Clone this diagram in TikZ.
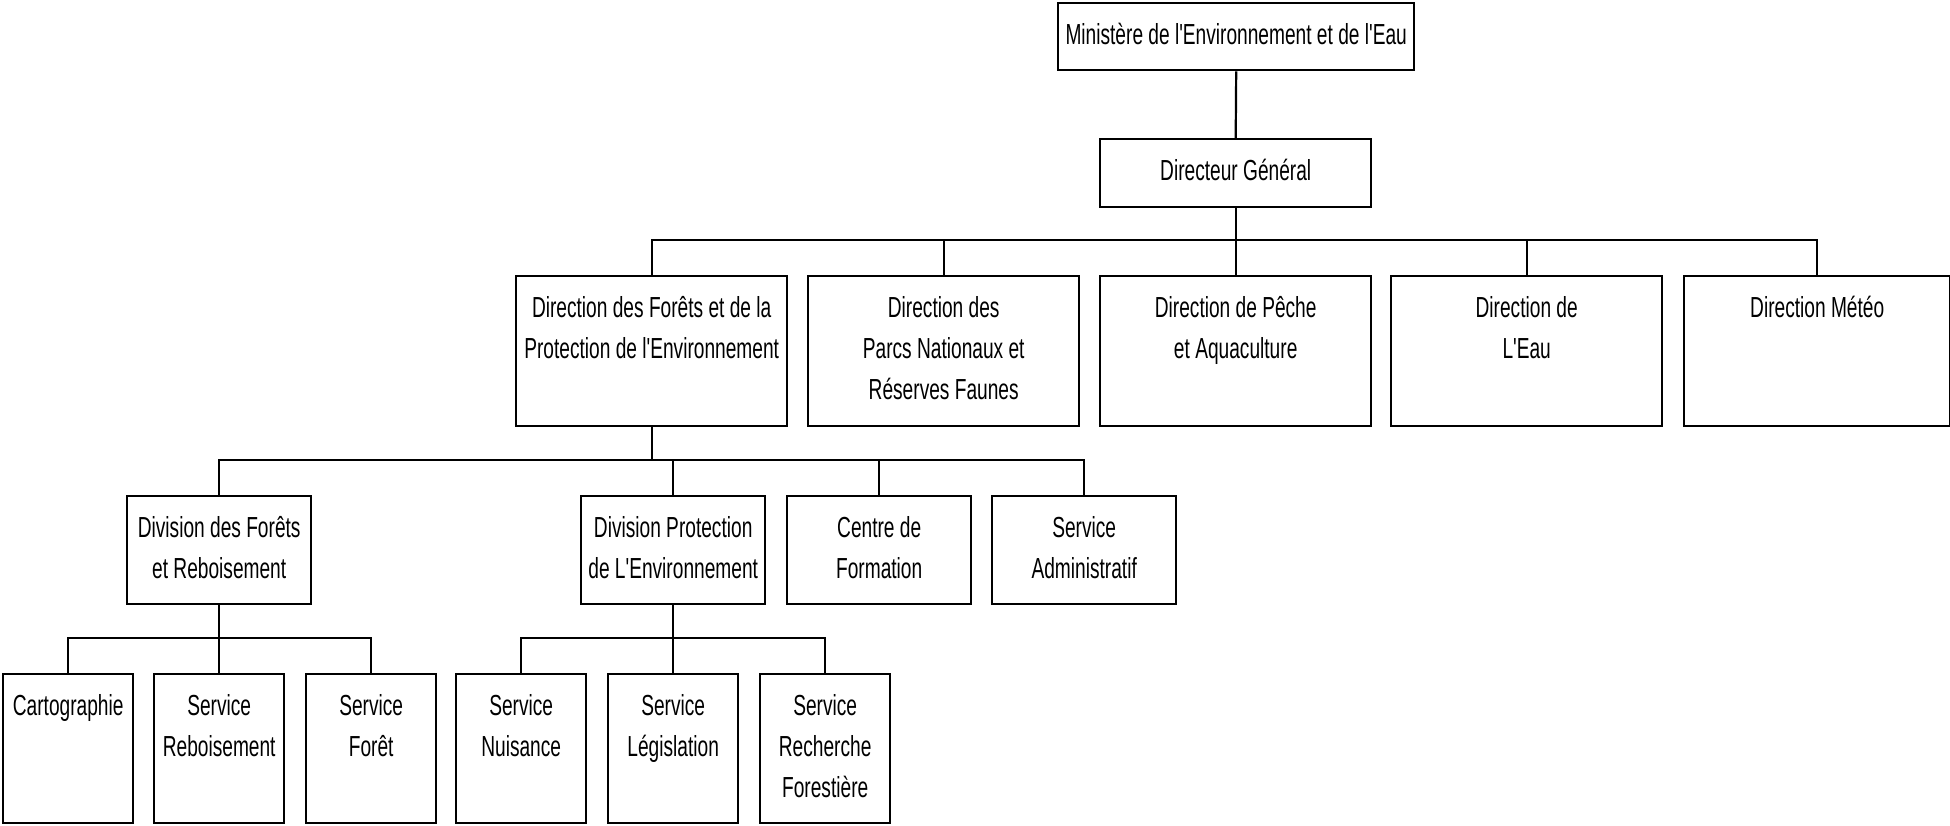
\documentclass[tikz,border=0pt]{standalone}
\usepackage{fontspec}
\setmainfont{Liberation Sans}[FakeStretch=0.66,Ligatures=TeXOff]
\newcommand\lines[1]{\begin{tabular}[t]{@{}c@{}}#1\end{tabular}}
\begin{document}
\begin{tikzpicture}[x=0.5pt,y=-0.5pt,
  orgbox/.style 2 args={draw, line width=1.2pt, inner sep=0pt,
    anchor=north west, minimum width=#1, text height=20.5pt, text depth=#2,
    font=\fontsize{14.5pt}{20.5pt}\selectfont},
  link/.style={line width=1.1pt}]
\useasboundingbox (0,0) rectangle (1950,825);
% bus levels
\coordinate (bus1) at (0,240);
\coordinate (bus2) at (0,460);
\coordinate (bus3) at (0,638);
% level 0-1
\node[orgbox={178pt}{13pt}] (M) at (1057,2) {\lines{Ministère de l'Environnement et de l'Eau}};
\node[orgbox={135.5pt}{13.5pt}] (DG) at (1099,138) {\lines{Directeur Général}};
% level 2
\node[orgbox={135.5pt}{54.5pt}] (B1) at (515,275) {\lines{Direction des Forêts et de la\\Protection de l'Environnement}};
\node[orgbox={135.5pt}{54.5pt}] (B2) at (807,275) {\lines{Direction des\\Parcs Nationaux et\\Réserves Faunes}};
\node[orgbox={135.5pt}{54.5pt}] (B3) at (1099,275) {\lines{Direction de Pêche\\et Aquaculture}};
\node[orgbox={135.5pt}{54.5pt}] (B4) at (1390,275) {\lines{Direction de\\L'Eau}};
\node[orgbox={133pt}{54.5pt}] (B5) at (1683,275) {\lines{Direction Météo}};
% level 3
\node[orgbox={92pt}{33.5pt}] (D1) at (126,495) {\lines{Division des Forêts\\et Reboisement}};
\node[orgbox={92pt}{33.5pt}] (D2) at (580,495) {\lines{Division Protection\\de L'Environnement}};
\node[orgbox={92pt}{33.5pt}] (D3) at (786,495) {\lines{Centre de\\Formation}};
\node[orgbox={92pt}{33.5pt}] (D4) at (991,495) {\lines{Service\\Administratif}};
% level 4
\node[orgbox={65pt}{54pt}] (S1) at (2,673) {\lines{Cartographie}};
\node[orgbox={65pt}{54pt}] (S2) at (153,673) {\lines{Service\\Reboisement}};
\node[orgbox={65pt}{54pt}] (S3) at (305,673) {\lines{Service\\Forêt}};
\node[orgbox={65pt}{54pt}] (S4) at (455,673) {\lines{Service\\Nuisance}};
\node[orgbox={65pt}{54pt}] (S5) at (607,673) {\lines{Service\\Législation}};
\node[orgbox={65pt}{54pt}] (S6) at (759,673) {\lines{Service\\Recherche\\Forestière}};
% connectors
\draw[link] (M.south) -- (DG.north);
\draw[link] (DG.south) -- (DG.south |- bus1);
\draw[link] (B1.north) -- (B1.north |- bus1) -- (B5.north |- bus1) -- (B5.north);
\foreach \n in {B2,B3,B4} \draw[link] (\n.north) -- (\n.north |- bus1);
\draw[link] (B1.south) -- (B1.south |- bus2);
\draw[link] (D1.north) -- (D1.north |- bus2) -- (D4.north |- bus2) -- (D4.north);
\foreach \n in {D2,D3} \draw[link] (\n.north) -- (\n.north |- bus2);
\draw[link] (D1.south) -- (D1.south |- bus3);
\draw[link] (S1.north) -- (S1.north |- bus3) -- (S3.north |- bus3) -- (S3.north);
\draw[link] (S2.north) -- (S2.north |- bus3);
\draw[link] (D2.south) -- (D2.south |- bus3);
\draw[link] (S4.north) -- (S4.north |- bus3) -- (S6.north |- bus3) -- (S6.north);
\draw[link] (S5.north) -- (S5.north |- bus3);
\end{tikzpicture}
\end{document}
